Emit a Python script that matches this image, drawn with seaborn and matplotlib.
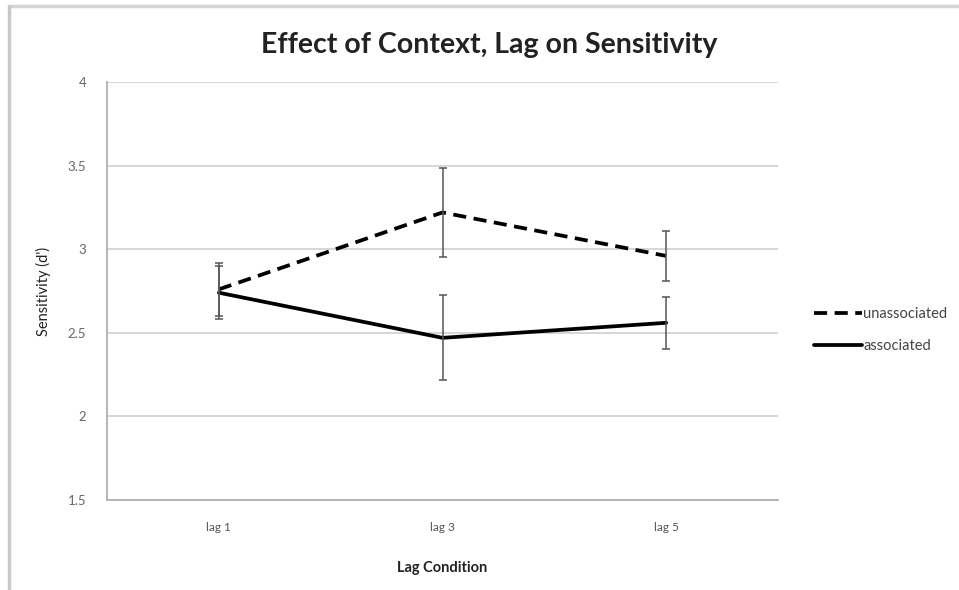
import matplotlib
matplotlib.use("Agg")
import matplotlib.pyplot as plt
from matplotlib.lines import Line2D
import seaborn as sns
import numpy as np
import pandas as pd

# values
lags = ["lag 1", "lag 3", "lag 5"]
unassociated = [2.76, 3.22, 2.96]
unassociated_err = [0.16, 0.265, 0.15]
associated = [2.74, 2.47, 2.56]
associated_err = [0.16, 0.255, 0.155]
y_ticks = [1.5, 2, 2.5, 3, 3.5, 4]
y_ticklabels = ["1.5", "2", "2.5", "3", "3.5", "4"]

df = pd.DataFrame({
    "lag": lags * 2,
    "sens": unassociated + associated,
    "err": unassociated_err + associated_err,
    "group": ["unassociated"] * 3 + ["associated"] * 3,
})

sns.set_style("white")
plt.rcParams["font.family"] = ["Lato", "DejaVu Sans"]

fig = plt.figure(figsize=(9.59, 5.9), dpi=100)
ax = fig.add_axes([0.1116, 0.1525, 0.6997, 0.7085])

sns.lineplot(
    data=df, x="lag", y="sens", style="group",
    dashes={"unassociated": (3.5, 2), "associated": ""},
    color="black", linewidth=2.7, legend=False, ax=ax,
)

# error bars (precomputed), drawn on seaborn's categorical positions
pos = np.arange(len(lags))
for vals, errs in [(unassociated, unassociated_err), (associated, associated_err)]:
    ax.errorbar(pos, vals, yerr=errs, fmt="none", ecolor="#555555",
                elinewidth=1.1, capsize=3, capthick=1.1, zorder=3)

ax.set_xlim(-0.5, 2.5)
ax.set_ylim(1.5, 4)
ax.set_yticks(y_ticks)
ax.set_yticklabels(y_ticklabels)
ax.yaxis.grid(True, color="#d0d0d0", linewidth=1.2)
ax.set_axisbelow(True)

ax.set_xticks(pos)
ax.set_xticklabels(lags)
ax.set_xticks([-0.5, 0.5, 1.5, 2.5], minor=True)
ax.tick_params(axis="x", which="major", length=0, pad=16, labelsize=8.5, labelcolor="#555555")
ax.tick_params(axis="x", which="minor", length=4, width=1, color="#b0b0b0", direction="out")
ax.tick_params(axis="y", length=7, width=1.2, color="#b0b0b0", direction="out",
               pad=8, labelsize=9.5, labelcolor="#666666")

for side in ["top", "right"]:
    ax.spines[side].set_visible(False)
for side in ["left", "bottom"]:
    ax.spines[side].set_color("#b0b0b0")
    ax.spines[side].set_linewidth(1.3)

ax.set_xlabel("Lag Condition", fontsize=10.5, fontweight="bold", color="#222222", labelpad=20)
ax.set_ylabel("Sensitivity (d')", fontsize=10.5, color="#222222", labelpad=12)
fig.suptitle("Effect of Context, Lag on Sensitivity", x=0.51, y=0.924, va="center",
             fontsize=20.5, fontweight="bold", color="#222222")

handles = [
    Line2D([], [], color="black", linewidth=2.7, dashes=(3.5, 2)),
    Line2D([], [], color="black", linewidth=2.7),
]
fig.legend(handles, ["unassociated", "associated"], loc="center left",
           bbox_to_anchor=(0.835, 0.441), frameon=False, fontsize=10.5,
           labelcolor="#444444", handlelength=3.3, handletextpad=0.1,
           labelspacing=1.25)

# partial chart frame (top and left edges), as in the reference
fig.add_artist(Line2D([0.0095, 1.0], [0.989, 0.989], color="#d4d4d4", linewidth=2.5,
                      transform=fig.transFigure))
fig.add_artist(Line2D([0.0095, 0.0095], [0.0, 0.989], color="#c8c8c8", linewidth=2.5,
                      transform=fig.transFigure))

fig.savefig("out.png", dpi=100)
